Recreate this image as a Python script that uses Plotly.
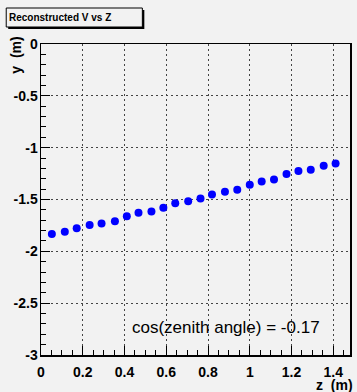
import plotly.graph_objects as go

# ---- data ----
z_values = [0.052, 0.114, 0.171, 0.233, 0.290, 0.354, 0.411, 0.467, 0.529, 0.586,
            0.643, 0.705, 0.764, 0.819, 0.881, 0.940, 1.000, 1.057, 1.116, 1.176,
            1.233, 1.292, 1.354, 1.411]
y_values = [-1.832, -1.810, -1.778, -1.745, -1.732, -1.710, -1.662, -1.629, -1.616, -1.580,
            -1.536, -1.516, -1.490, -1.452, -1.426, -1.406, -1.358, -1.326, -1.306, -1.255,
            -1.226, -1.213, -1.174, -1.152]
x_tickvals = [0, 0.2, 0.4, 0.6, 0.8, 1.0, 1.2, 1.4]
x_ticktext = ["0", "0.2", "0.4", "0.6", "0.8", "1", "1.2", "1.4"]
y_tickvals = [-3, -2.5, -2, -1.5, -1, -0.5, 0]
y_ticktext = ["-3", "-2.5", "-2", "-1.5", "-1", "-0.5", "0"]
title_text = "Reconstructed V vs Z"
note_text = "cos(zenith angle) = -0.17"
x_title = "z  (m)"
y_title = "y  (m)"

W, H = 357, 392
L, R, T, B = 41, 5, 44, 37
PW, PH = W - L - R, H - T - B
BG = "#f2f2f2"
FONT = "Liberation Sans"


def px(x):
    return (x - L) / PW


def py(y):
    return (H - B - y) / PH


fig = go.Figure()
fig.add_trace(go.Scatter(
    x=z_values, y=y_values, mode="markers",
    marker=dict(color="#0000ff", size=8, line=dict(width=0)),
    showlegend=False, hoverinfo="skip"))

axis_common = dict(
    showline=True, linecolor="black", linewidth=1.5, mirror=True,
    ticks="inside", ticklen=9, tickcolor="black", tickwidth=1,
    showgrid=True, gridcolor="#444444", gridwidth=1, griddash="2px,3px",
    zeroline=False,
    tickfont=dict(family=FONT, size=14, color="black", weight="bold"),
)

fig.update_xaxes(range=[0, 1.48], tickmode="array", tickvals=x_tickvals,
                 ticktext=x_ticktext, ticklabelstandoff=4,
                 minor=dict(dtick=0.05, ticks="inside", ticklen=5,
                            tickcolor="black", showgrid=False),
                 **axis_common)
fig.update_yaxes(range=[-3, 0], tickmode="array", tickvals=y_tickvals,
                 ticktext=y_ticktext, ticklabelstandoff=-1,
                 minor=dict(dtick=0.1, ticks="inside", ticklen=5,
                            tickcolor="black", showgrid=False),
                 **axis_common)

shapes = [
    # shadow of the title box
    dict(type="rect", xref="paper", yref="paper",
         x0=px(8), x1=px(145), y0=py(29), y1=py(10),
         fillcolor="black", line=dict(width=0), layer="above"),
    dict(type="rect", xref="paper", yref="paper",
         x0=px(6), x1=px(143), y0=py(27), y1=py(8),
         fillcolor=BG, line=dict(color="black", width=1), layer="above"),
]

annotations = [
    dict(text=title_text, xref="paper", yref="paper", x=px(7), y=py(17.5),
         xanchor="left", yanchor="middle", showarrow=False,
         font=dict(family=FONT, size=10, color="black", weight="bold")),
    dict(text=note_text, xref="paper", yref="paper", x=px(227), y=py(327),
         xanchor="center", yanchor="middle", showarrow=False,
         font=dict(family=FONT, size=17, color="black")),
    dict(text=x_title, xref="paper", yref="paper", x=px(357), y=py(385),
         xanchor="right", yanchor="middle", showarrow=False,
         font=dict(family=FONT, size=14, color="black", weight="bold")),
    dict(text=y_title, xref="paper", yref="paper", x=px(15), y=py(35),
         xanchor="center", yanchor="top", textangle=-90, showarrow=False,
         font=dict(family=FONT, size=14, color="black", weight="bold")),
]

fig.update_layout(
    width=W, height=H,
    margin=dict(l=L, r=R, t=T, b=B, pad=0),
    paper_bgcolor=BG, plot_bgcolor=BG,
    shapes=shapes, annotations=annotations,
)

fig.write_html("out.html",
               config={"displayModeBar": False, "staticPlot": True},
               post_script="document.body.style.margin='0';"
                           "document.body.style.overflow='hidden';")
